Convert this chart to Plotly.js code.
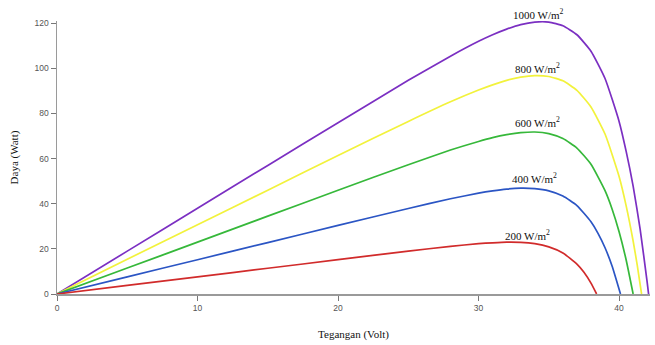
<!DOCTYPE html>
<html>
<head>
<meta charset="utf-8">
<script src="https://cdn.plot.ly/plotly-3.0.1.min.js"></script>
<style>html,body{margin:0;padding:0;background:#fff;}#chart{width:655px;height:345px;}</style>
</head>
<body>
<div id="chart"></div>
<script>
// Voltage (V) and power (W), one pair of arrays per irradiance
const labels = ["1000 W/m<sup>2</sup>", "800 W/m<sup>2</sup>", "600 W/m<sup>2</sup>", "400 W/m<sup>2</sup>", "200 W/m<sup>2</sup>"];

const v1000 = [0, 5, 10, 15, 20, 25, 28, 30, 31, 32, 33, 34, 35, 36, 37, 38, 39, 40, 40.5, 41, 41.5, 42, 42.1];
const p1000 = [0, 19.0, 38.0, 57.0, 75.9, 94.7, 105.4, 112.0, 114.9, 117.4, 119.4, 120.5, 120.5, 118.9, 114.9, 107.6, 95.5, 76.5, 63.3, 47.8, 28.6, 5.2, 0];

const v800 = [0, 5, 10, 15, 20, 25, 28, 30, 31, 32, 33, 34, 35, 36, 37, 38, 39, 40, 40.5, 41, 41.3, 41.6];
const p800 = [0, 15.4, 30.7, 46.0, 61.4, 76.5, 85.2, 90.4, 92.7, 94.7, 96.1, 96.8, 96.4, 94.5, 90.3, 82.9, 70.9, 52.1, 39.2, 23.5, 12.5, 0];

const v600 = [0, 5, 10, 15, 20, 25, 28, 30, 31, 32, 33, 34, 35, 36, 37, 38, 39, 39.5, 40, 40.5, 41];
const p600 = [0, 11.5, 23.0, 34.5, 46.0, 57.3, 63.8, 67.6, 69.3, 70.6, 71.5, 71.8, 71.1, 68.9, 64.7, 57.5, 45.8, 37.7, 27.6, 15.2, 0];

const v400 = [0, 5, 10, 15, 20, 25, 28, 30, 31, 32, 33, 34, 35, 36, 37, 38, 38.5, 39, 39.5, 40.1];
const p400 = [0, 7.6, 15.2, 22.8, 30.4, 37.9, 42.2, 44.7, 45.7, 46.5, 46.9, 46.7, 45.7, 43.4, 39.2, 32.0, 26.9, 20.5, 12.4, 0];

const v200 = [0, 5, 10, 15, 20, 25, 28, 30, 31, 32, 33, 34, 35, 36, 37, 37.5, 38, 38.4];
const p200 = [0, 3.8, 7.6, 11.4, 15.2, 19.0, 21.1, 22.3, 22.7, 23.0, 22.9, 22.3, 20.9, 18.2, 13.2, 9.6, 4.8, 0];

// label anchor positions (data units) and extra pixel lift for each curve's annotation
const labelX = [34.3, 34.2, 34.2, 34.0, 33.5];
const labelY = [121.0, 100.2, 76.3, 51.5, 26.3];
const labelLift = [7, 0, 0, 0, 0];

const xTicks = [0, 10, 20, 30, 40];
const yTicks = [0, 20, 40, 60, 80, 100, 120];

const series = [
  {x: v1000, y: p1000, color: '#7b2fc2'},
  {x: v800,  y: p800,  color: '#f2f23c'},
  {x: v600,  y: p600,  color: '#36b83a'},
  {x: v400,  y: p400,  color: '#2b55c4'},
  {x: v200,  y: p200,  color: '#d12b2b'}
];

const traces = series.map((s, i) => ({
  x: s.x, y: s.y, type: 'scatter', mode: 'lines',
  line: {color: s.color, width: 1.7, shape: 'spline', smoothing: 0.5},
  name: labels[i], hoverinfo: 'skip', cliponaxis: false
}));

const annotations = labels.map((t, i) => ({
  x: labelX[i], y: labelY[i], xref: 'x', yref: 'y', yshift: labelLift[i], text: t, showarrow: false,
  font: {family: 'Liberation Serif, Times New Roman, serif', size: 11, color: '#111'},
  xanchor: 'center', yanchor: 'middle'
}));

const axisCommon = {
  showgrid: false, zeroline: false, showline: true, linecolor: '#9a9a9a', linewidth: 1.5,
  ticks: 'outside', ticklen: 5, tickwidth: 1, tickcolor: '#777',
  tickfont: {family: 'Liberation Sans, Arial, sans-serif', size: 8.5, color: '#555'}
};

const layout = {
  width: 655, height: 345,
  margin: {l: 57, r: 5, t: 21, b: 51},
  paper_bgcolor: '#fff', plot_bgcolor: '#fff',
  showlegend: false,
  xaxis: Object.assign({}, axisCommon, {
    range: [0, 42.2], tickvals: xTicks, ticktext: xTicks.map(String),
    title: {text: 'Tegangan (Volt)', standoff: 18,
      font: {family: 'Liberation Serif, Times New Roman, serif', size: 11, color: '#111'}}
  }),
  yaxis: Object.assign({}, axisCommon, {
    range: [0, 121], tickvals: yTicks, ticktext: yTicks.map(String),
    title: {text: 'Daya (Watt)', standoff: 14,
      font: {family: 'Liberation Serif, Times New Roman, serif', size: 11, color: '#111'}}
  }),
  annotations: annotations
};

Plotly.newPlot('chart', traces, layout, {displayModeBar: false, staticPlot: true});
</script>
</body>
</html>
